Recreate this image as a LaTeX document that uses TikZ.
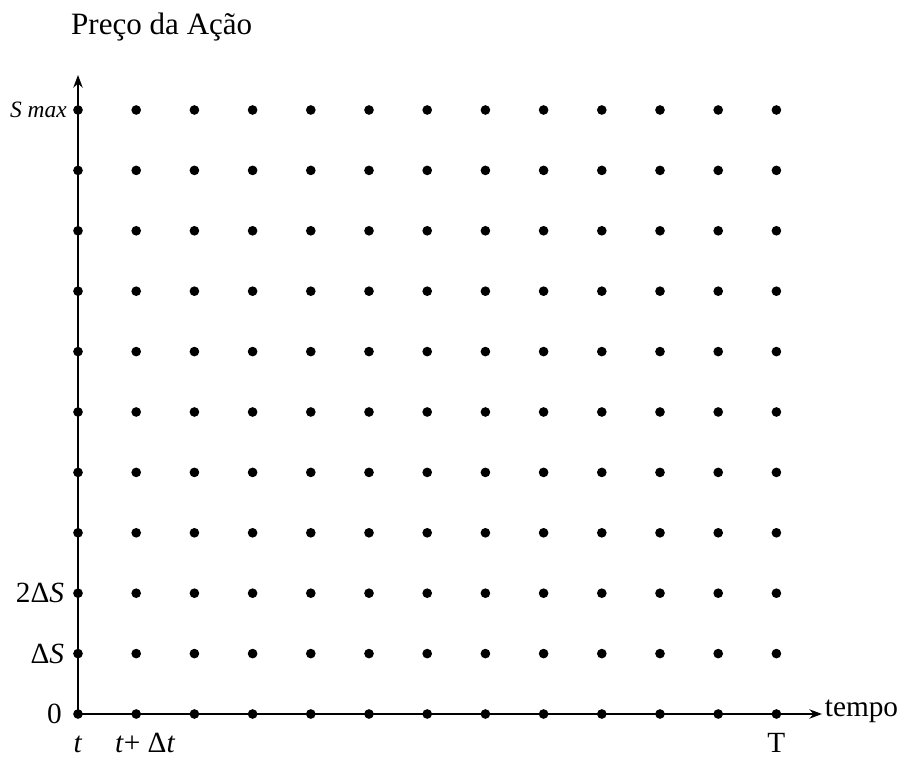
\documentclass[tikz,border=0pt]{standalone}
\usepackage{fontspec}
\setmainfont{Liberation Serif}
\usepackage{tikz}
\usetikzlibrary{
	arrows.meta,
	positioning
}

\begin{document}
\begin{tikzpicture}[
    x=0.03cm, y=0.03cm,
    gridpt/.style={circle, fill=black, inner sep=0pt, minimum size=2.9mm},
    axis/.style={-{Stealth[length=3.8mm, width=2.8mm]}, line width=1.5pt},
    lbl/.style={font=\fontsize{25}{29}\selectfont, inner sep=0pt},
    ticklbl/.style={lbl, anchor=base},
    title/.style={font=\fontsize{26.5}{30}\selectfont, inner sep=0pt}
]
\useasboundingbox (0,0) rectangle (902,758);

% axes
\coordinate (origin) at (78,44);
\coordinate (ytip) at (78,683);
\coordinate (xtip) at (822,44);
\draw[axis] (origin) -- (ytip);
\draw[axis] (origin) -- (xtip);

% grid of points
\foreach \i in {0,...,12}
  \foreach \j in {0,...,10}
    \node[gridpt] (p-\i-\j) at ({78+58.2*\i},{44+60.4*\j}) {};

% labels
\node[title, anchor=base west] (title) at (71,723) {Preço da Ação};
\node[lbl, font=\fontsize{20}{24}\selectfont, left=1.8mm of p-0-10] (smax) {\textit{S max}};
\node[lbl, left=2.6mm of p-0-2] (twods) {2Δ\textit{S}};
\node[lbl, left=2.6mm of p-0-1] (ds) {Δ\textit{S}};
\node[lbl, left=3.3mm of p-0-0] (zero) {0};
\node[lbl, right=0.8mm of xtip, anchor=mid west] (tempo) {tempo};
\node[ticklbl, below=10mm of p-0-0, anchor=base] (tstart) {\textit{t}};
\node[ticklbl, below=10mm of p-1-0, anchor=base, xshift=2.7mm] (tnext) {\textit{t}+ Δ\textit{t}};
\node[ticklbl, below=10mm of p-12-0, anchor=base] (tend) {T};
\end{tikzpicture}
\end{document}
